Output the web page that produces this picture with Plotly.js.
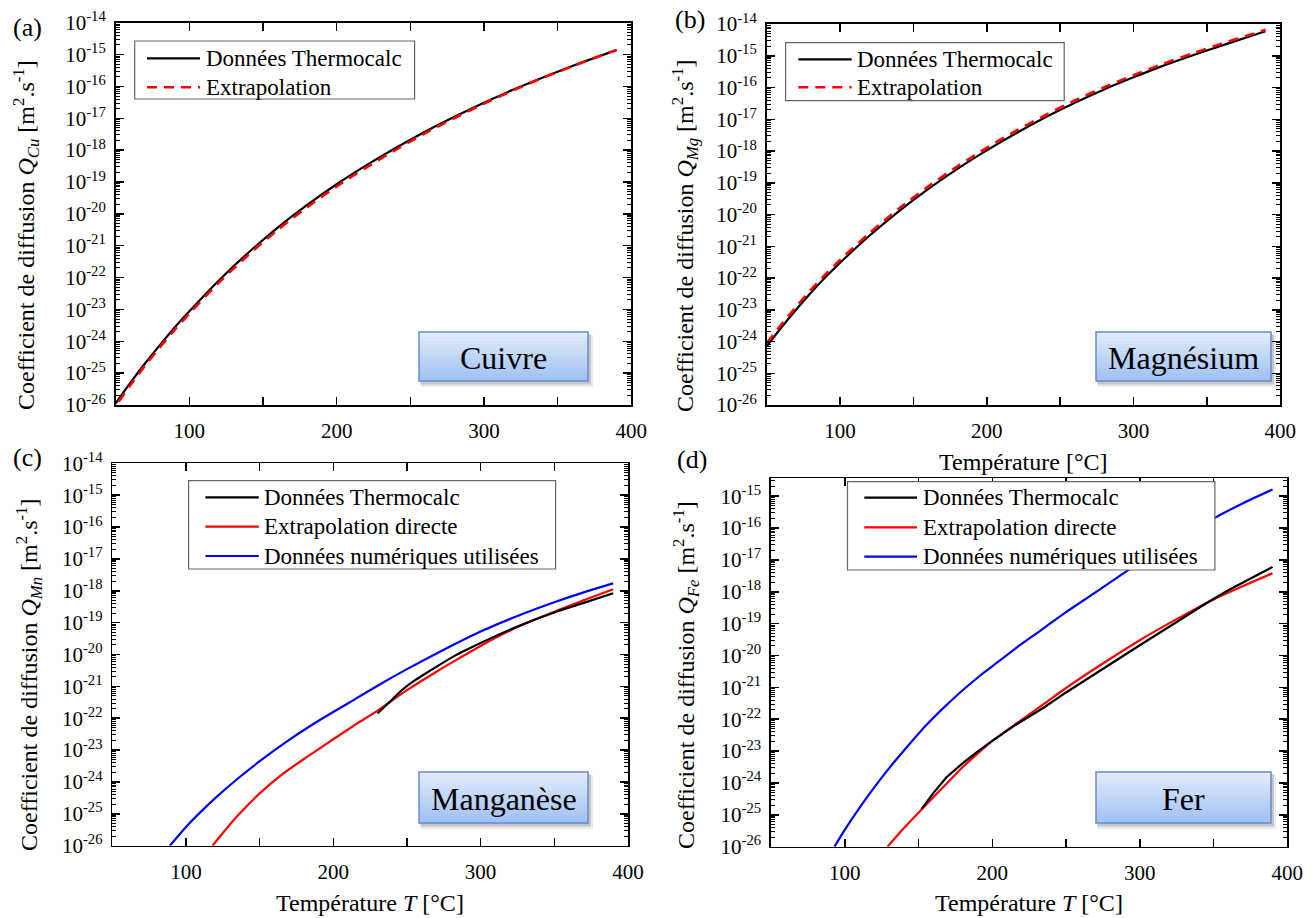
<!DOCTYPE html>
<html>
<head>
<meta charset="utf-8">
<script src="https://cdn.plot.ly/plotly-3.0.1.min.js"></script>
<style>html,body{margin:0;padding:0;background:#fff;}</style>
</head>
<body>
<div id="chart" style="width:1316px;height:918px;"></div>
<script>
// ---------------- DATA ----------------
// (a) Cuivre
const cuTempThermo = [50,60,70,80,90,100,120,140,160,180,200,220,240,260,280,300,320,340,360,380,390];
const cuThermo = [1.12e-26,5.01e-26,2.04e-25,7.59e-25,2.69e-24,8.71e-24,8.13e-23,6.03e-22,3.72e-21,1.91e-20,8.51e-20,3.31e-19,1.17e-18,3.80e-18,1.12e-17,3.09e-17,7.94e-17,1.91e-16,4.37e-16,9.55e-16,1.38e-15];
const cuTempExtra = [52,60,70,80,90,100,120,140,160,180,200,220,240,260,280,300,320,340,360,380,390];
const cuExtra = [1.26e-26,4.27e-26,1.74e-25,6.46e-25,2.29e-24,7.41e-24,6.92e-23,5.13e-22,3.16e-21,1.62e-20,7.24e-20,2.82e-19,1.02e-18,3.39e-18,1.02e-17,2.88e-17,7.59e-17,1.86e-16,4.27e-16,9.55e-16,1.38e-15];

// (b) Magnésium
const mgTemp = [50,60,70,80,90,100,120,140,160,180,200,220,240,260,280,300,320,340,360,380,390];
const mgThermo = [7.08e-25,2.75e-24,1.00e-23,3.39e-23,1.05e-22,3.02e-22,2.14e-21,1.26e-20,6.31e-20,2.75e-19,1.05e-18,3.63e-18,1.15e-17,3.31e-17,8.71e-17,2.09e-16,4.79e-16,1.02e-15,2.09e-15,4.17e-15,5.89e-15];
const mgExtra = [8.91e-25,3.39e-24,1.23e-23,4.17e-23,1.29e-22,3.72e-22,2.57e-21,1.51e-20,7.59e-20,3.31e-19,1.26e-18,4.37e-18,1.35e-17,3.89e-17,1.02e-16,2.45e-16,5.50e-16,1.17e-15,2.40e-15,4.68e-15,6.61e-15];

// (c) Manganèse
const mnTempThermo = [230,238,247,255,265,282,300,325,350,370,390];
const mnThermo = [1.41e-22,3.16e-22,7.94e-22,1.51e-21,2.95e-21,8.91e-21,2.29e-20,7.59e-20,2.09e-19,4.17e-19,8.32e-19];
const mnTempExtra = [118,125,135,150,165,180,200,215,230,250,270,285,300,325,350,370,390];
const mnExtra = [1.00e-26,2.51e-26,8.71e-26,4.37e-25,1.70e-24,5.25e-24,2.19e-23,6.31e-23,1.74e-22,7.59e-22,2.88e-21,7.41e-21,1.86e-20,7.24e-20,2.19e-19,5.01e-19,1.12e-18];
const mnTempNum = [89,100,110,120,135,150,170,190,210,230,250,275,300,325,350,370,390];
const mnNum = [1.00e-26,3.89e-26,1.15e-25,3.16e-25,1.26e-24,4.47e-24,2.09e-23,8.32e-23,2.95e-22,1.05e-21,3.47e-21,1.41e-20,5.25e-20,1.62e-19,4.37e-19,8.91e-19,1.70e-18];

// (d) Fer
const feTempThermo = [152,160,169,180,190,200,215,235,250,270,300,325,345,360,375,390];
const feThermo = [1.51e-25,4.79e-25,1.51e-24,4.17e-24,9.55e-24,2.09e-23,6.31e-23,2.34e-22,6.92e-22,2.75e-21,2.09e-20,1.12e-19,4.37e-19,1.12e-18,2.63e-18,6.03e-18];
const feTempExtra = [129,140,150,160,170,180,191,200,218,235,250,270,300,325,350,370,390];
const feExtra = [1.00e-26,3.80e-26,1.17e-25,3.55e-25,1.05e-24,3.16e-24,9.12e-24,2.09e-23,8.32e-23,3.02e-22,9.55e-22,3.98e-21,3.02e-20,1.38e-19,5.75e-19,1.51e-18,3.80e-18];
const feTempNum = [93,100,110,120,130,140,155,165,178,190,200,218,235,250,270,300,325,350,370,390];
const feNum = [1.00e-26,3.39e-26,1.66e-25,7.24e-25,2.88e-24,1.02e-23,6.31e-23,1.86e-22,6.76e-22,2.00e-21,4.57e-21,2.00e-20,7.24e-20,2.29e-19,9.55e-19,8.32e-18,4.47e-17,2.00e-16,6.03e-16,1.62e-15];

// labels
const nameThermo = 'Données Thermocalc';
const nameExtra = 'Extrapolation';
const nameExtraDirect = 'Extrapolation directe';
const nameNum = 'Données numériques utilisées';
const xTickVals = [100,200,300,400];
const xTickText = ['100','200','300','400'];
const xMinorVals = [50,150,250,350];
const yExponents = [-26,-25,-24,-23,-22,-21,-20,-19,-18,-17,-16,-15,-14];
const elements = ['Cuivre','Magnésium','Manganèse','Fer'];
const subscripts = ['Cu','Mg','Mn','Fe'];
const letters = ['(a)','(b)','(c)','(d)'];

// ---------------- LAYOUT HELPERS ----------------
const FONT = '"Liberation Serif", "Times New Roman", serif';
const W = 1316, H = 918;
const px = x => x / W;
const py = y => 1 - y / H;

const yTickVals = yExponents.map(e => Number('1e' + e));
const yTickText = yExponents.map(e => '10<sup>' + e + '</sup>');
const yMinor = [];
yExponents.forEach(e => { for (let m = 2; m <= 9; m++) yMinor.push(Number(m + 'e' + e)); });

function xAxis(x0, x1, anchor) {
  return {
    domain: [px(x0), px(x1)], anchor: anchor, range: [50, 400],
    tickmode: 'array', tickvals: xTickVals, ticktext: xTickText,
    ticks: 'inside', ticklen: 8, tickwidth: 1.5, tickcolor: '#000',
    minor: {tickmode: 'array', tickvals: xMinorVals, ticks: 'inside', ticklen: 8, tickwidth: 1.5, tickcolor: '#000', showgrid: false},
    showline: true, linecolor: '#000', linewidth: 1.7, mirror: 'allticks',
    showgrid: false, zeroline: false, ticklabelstandoff: 6,
    tickfont: {family: FONT, size: 21, color: '#000'}
  };
}
function yAxis(yTop, yBot, anchor, top) {
  return {
    domain: [py(yBot), py(yTop)], anchor: anchor, type: 'log', range: [-26, top],
    tickmode: 'array', tickvals: yTickVals, ticktext: yTickText,
    ticks: 'inside', ticklen: 8, tickwidth: 1.5, tickcolor: '#000',
    minor: {tickmode: 'array', tickvals: yMinor, ticks: 'inside', ticklen: 4, tickwidth: 1, tickcolor: '#000', showgrid: false},
    showline: true, linecolor: '#000', linewidth: 1.7, mirror: 'allticks',
    showgrid: false, zeroline: false, ticklabelstandoff: 4,
    tickfont: {family: FONT, size: 21, color: '#000'}
  };
}
function line(x, y, color, dash, ax, smooth) {
  return {
    type: 'scatter', mode: 'lines', x: x, y: y,
    line: {color: color, width: dash === 'solid' ? 2.2 : 2.6, dash: dash, shape: smooth ? 'spline' : 'linear', smoothing: 0.8},
    xaxis: ax === 1 ? 'x' : 'x' + ax, yaxis: ax === 1 ? 'y' : 'y' + ax,
    showlegend: false, hoverinfo: 'skip'
  };
}

const BLACK = '#000000', RED = '#ff0000', BLUE = '#0000ff';
const DASH = '10px,7px';

const traces = [
  line(cuTempThermo, cuThermo, BLACK, 'solid', 1, true),
  line(cuTempExtra, cuExtra, RED, DASH, 1, true),
  line(mgTemp, mgThermo, BLACK, 'solid', 2, true),
  line(mgTemp, mgExtra, RED, DASH, 2, true),
  line(mnTempNum, mnNum, BLUE, 'solid', 3, true),
  line(mnTempExtra, mnExtra, RED, 'solid', 3, true),
  line(mnTempThermo, mnThermo, BLACK, 'solid', 3, true),
  line(feTempNum, feNum, BLUE, 'solid', 4, true),
  line(feTempExtra, feExtra, RED, 'solid', 4, true),
  line(feTempThermo, feThermo, BLACK, 'solid', 4, false)
];

const shapes = [];
const annotations = [];
function ann(text, x, y, size, angle, anchor) {
  annotations.push({text: text, xref: 'paper', yref: 'paper', x: px(x), y: py(y), xanchor: anchor || 'center', yanchor: 'middle',
    showarrow: false, textangle: angle || 0, font: {family: FONT, size: size, color: '#000'}});
}

// legends (boxes drawn above the curves)
function legend(box, lineX, textX, rows, items) {
  shapes.push({type: 'rect', xref: 'paper', yref: 'paper', x0: px(box[0]), x1: px(box[2]), y0: py(box[3]), y1: py(box[1]),
    fillcolor: '#ffffff', line: {color: '#666', width: 1.2}, layer: 'above'});
  items.forEach((it, i) => {
    shapes.push({type: 'line', xref: 'paper', yref: 'paper', x0: px(lineX[0]), x1: px(lineX[1]), y0: py(rows[i]), y1: py(rows[i]),
      line: {color: it[1], width: it[2] === 'solid' ? 2.2 : 2.6, dash: it[2]}, layer: 'above'});
    ann(it[0], textX, rows[i], 23, 0, 'left');
  });
}
legend([134.7, 41, 414.6, 99], [147, 200], 204, [58.3, 87.3], [[nameThermo, BLACK, 'solid'], [nameExtra, RED, DASH]]);
legend([785.6, 42.7, 1064.2, 100.7], [798.3, 851.7], 855, [59.3, 87.3], [[nameThermo, BLACK, 'solid'], [nameExtra, RED, DASH]]);
legend([188.6, 480.7, 555.6, 569], [205.4, 258.8], 262, [497.3, 526.7, 556], [[nameThermo, BLACK, 'solid'], [nameExtraDirect, RED, 'solid'], [nameNum, BLUE, 'solid']]);
legend([847.5, 481.7, 1214.9, 570], [864.3, 917], 921, [497.7, 527.3, 556.7], [[nameThermo, BLACK, 'solid'], [nameExtraDirect, RED, 'solid'], [nameNum, BLUE, 'solid']]);

// gradient label boxes
function gradientBox(x0, y0, x1, y1) {
  shapes.push({type: 'rect', xref: 'paper', yref: 'paper', x0: px(x0 + 2), x1: px(x1 + 5), y0: py(y1 + 6), y1: py(y0 + 3),
    fillcolor: 'rgba(0,0,0,0.08)', line: {width: 0}, layer: 'above'});
  shapes.push({type: 'rect', xref: 'paper', yref: 'paper', x0: px(x0 + 1), x1: px(x1 + 3), y0: py(y1 + 3.5), y1: py(y0 + 2),
    fillcolor: 'rgba(0,0,0,0.16)', line: {width: 0}, layer: 'above'});
  const n = 16, top = [228, 237, 253], bot = [158, 192, 243];
  for (let i = 0; i < n; i++) {
    const t = (i + 0.5) / n;
    const c = top.map((v, k) => Math.round(v + (bot[k] - v) * t));
    const ya = y0 + (y1 - y0) * i / n, yb = y0 + (y1 - y0) * (i + 1) / n;
    shapes.push({type: 'rect', xref: 'paper', yref: 'paper', x0: px(x0), x1: px(x1), y0: py(yb + 0.3), y1: py(ya),
      fillcolor: 'rgb(' + c.join(',') + ')', line: {width: 0}, layer: 'above'});
  }
  shapes.push({type: 'rect', xref: 'paper', yref: 'paper', x0: px(x0), x1: px(x1), y0: py(y1), y1: py(y0),
    fillcolor: 'rgba(0,0,0,0)', line: {color: 'rgb(100,140,205)', width: 1.5}, layer: 'above'});
}
const boxes = [[419, 332, 588, 381], [1096, 332, 1271, 381], [419, 772, 588, 823], [1096, 772, 1271, 823]];
boxes.forEach(b => gradientBox(b[0], b[1], b[2], b[3]));

// box texts
boxes.forEach((b, i) => ann(elements[i], (b[0] + b[2]) / 2, (b[1] + b[3]) / 2 + 1, 32));
// panel letters
ann(letters[0], 27, 28, 26);
ann(letters[1], 690, 20, 26);
ann(letters[2], 27, 458, 26);
ann(letters[3], 692, 460, 26);
// y titles
const yTitlePos = [[26, 235], [685, 236], [29, 675], [686, 675]];
yTitlePos.forEach((p, i) => ann('Coefficient de diffusion <i>Q</i><sub><i>' + subscripts[i] + '</i></sub>&nbsp;[m<sup>2</sup>.s<sup>-1</sup>]', p[0], p[1], 24, -90));
// x titles
ann('Température [°C]', 1023, 462, 24);
ann('Température <i>T</i> [°C]', 370, 903, 24);
ann('Température <i>T</i> [°C]', 1029, 903, 24);

const layout = {
  width: W, height: H,
  margin: {l: 0, r: 0, t: 0, b: 0},
  paper_bgcolor: '#fff', plot_bgcolor: '#fff',
  font: {family: FONT, color: '#000'},
  xaxis: xAxis(115.7, 631.3, 'y'),
  yaxis: yAxis(22.7, 405, 'x', -14),
  xaxis2: xAxis(766.7, 1280.2, 'y2'),
  yaxis2: yAxis(24, 405, 'x2', -14),
  xaxis3: xAxis(112.4, 627.9, 'y3'),
  yaxis3: yAxis(463.3, 845.7, 'x3', -14),
  xaxis4: xAxis(771, 1287.3, 'y4'),
  yaxis4: yAxis(478.3, 846.7, 'x4', -14.44),
  shapes: shapes,
  annotations: annotations,
  showlegend: false
};

Plotly.newPlot('chart', traces, layout, {staticPlot: true, displayModeBar: false});
</script>
</body>
</html>
